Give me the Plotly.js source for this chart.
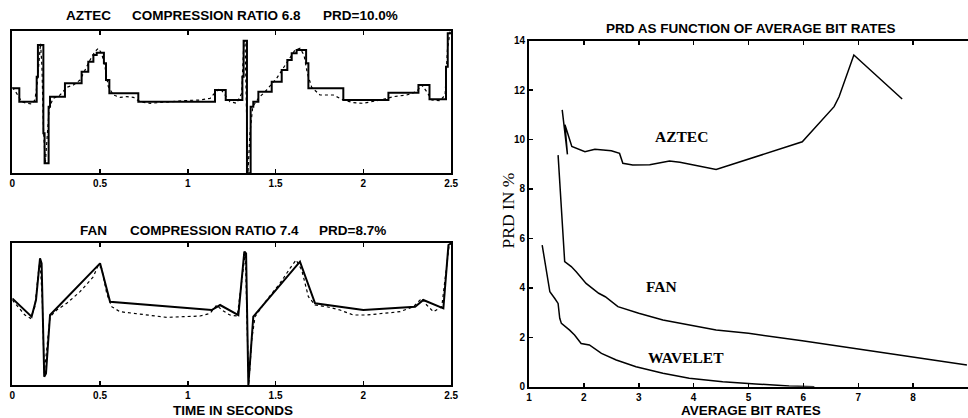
<!DOCTYPE html>
<html>
<head>
<meta charset="utf-8">
<script src="https://cdn.plot.ly/plotly-3.0.1.min.js"></script>
<style>
html,body{margin:0;padding:0;background:#fff;}
#chart{width:968px;height:418px;}
</style>
</head>
<body>
<div id="chart"></div>
<script>
// ---------- Left top: AZTEC (time in seconds, amplitude in arbitrary units) ----------
var aztecT = [0.000,0.040,0.139,0.146,0.169,0.177,0.184,0.196,0.207,0.215,0.300,0.395,0.433,0.462,0.481,0.522,0.534,0.553,0.718,1.155,1.216,1.311,1.318,1.330,1.337,1.351,1.358,1.373,1.402,1.478,1.535,1.567,1.592,1.620,1.674,1.687,1.886,2.143,2.314,2.377,2.471,2.481,2.500];
var aztecV = [2.55,2.15,2.90,3.85,3.85,1.20,0.30,0.30,2.00,2.30,2.70,3.05,3.35,3.55,3.62,3.30,2.80,2.40,2.15,2.50,2.20,2.90,3.98,3.98,0.00,0.00,2.00,2.15,2.45,2.75,3.10,3.40,3.60,3.70,3.30,2.55,2.20,2.42,2.65,2.22,3.20,4.20,4.20];

var origAT = [0.000,0.025,0.053,0.082,0.110,0.129,0.142,0.154,0.161,0.169,0.177,0.188,0.199,0.211,0.234,0.272,0.310,0.348,0.386,0.414,0.443,0.471,0.490,0.509,0.528,0.547,0.576,0.614,0.652,0.690,0.728,0.785,0.880,0.975,1.070,1.127,1.155,1.184,1.212,1.240,1.278,1.307,1.318,1.326,1.335,1.343,1.354,1.370,1.402,1.449,1.506,1.554,1.582,1.611,1.639,1.662,1.681,1.706,1.753,1.829,1.886,1.943,2.000,2.057,2.114,2.171,2.247,2.304,2.333,2.361,2.390,2.437,2.466,2.479,2.494];
var origAV = [2.58,2.40,2.15,2.10,2.08,2.20,2.70,3.60,3.90,3.20,1.40,0.30,1.00,2.00,2.25,2.35,2.58,2.65,2.80,3.10,3.40,3.65,3.75,3.60,3.20,2.60,2.35,2.28,2.30,2.28,2.15,2.10,2.15,2.18,2.20,2.25,2.42,2.55,2.35,2.15,2.10,2.40,3.80,4.00,1.70,0.00,1.20,2.00,2.25,2.50,2.85,3.25,3.50,3.70,3.75,3.55,3.00,2.58,2.35,2.35,2.20,2.12,2.10,2.15,2.22,2.30,2.35,2.45,2.65,2.45,2.20,2.18,2.35,3.70,4.25];

// ---------- Left bottom: FAN ----------
var fanT = [0.000,0.110,0.135,0.158,0.167,0.182,0.192,0.215,0.500,0.557,1.136,1.184,1.288,1.322,1.332,1.345,1.373,1.639,1.725,2.000,2.295,2.342,2.456,2.485,2.500];
var fanV = [2.60,2.05,2.55,3.80,3.65,0.25,0.35,2.10,3.65,2.50,2.25,2.40,2.10,4.00,3.95,0.00,2.05,3.70,2.45,2.25,2.35,2.55,2.30,4.20,4.25];

var origFT = [0.000,0.034,0.072,0.104,0.129,0.148,0.158,0.171,0.182,0.196,0.215,0.253,0.310,0.386,0.462,0.490,0.509,0.538,0.566,0.614,0.690,0.785,0.880,0.975,1.070,1.127,1.165,1.193,1.240,1.282,1.316,1.328,1.339,1.347,1.364,1.383,1.449,1.525,1.582,1.617,1.649,1.687,1.725,1.791,1.867,1.943,2.019,2.114,2.209,2.285,2.333,2.361,2.399,2.447,2.475,2.489];
var origFV = [2.55,2.35,2.10,2.00,2.35,3.35,3.75,2.55,0.35,1.05,2.05,2.25,2.45,2.80,3.25,3.60,3.50,2.75,2.35,2.20,2.15,2.07,2.03,2.05,2.07,2.15,2.40,2.25,2.10,2.07,3.55,4.00,1.55,0.00,1.35,2.05,2.55,3.05,3.50,3.75,3.45,2.65,2.40,2.35,2.25,2.10,2.10,2.15,2.20,2.35,2.60,2.40,2.20,2.35,3.55,4.20];

var timeTicks = [0, 0.5, 1, 1.5, 2, 2.5];
var timeTickText = ['0', '0.5', '1', '1.5', '2', '2.5'];

// ---------- Right: PRD vs average bit rate ----------
var prdAztecX = [1.605,1.70,1.655,1.78,2.02,2.20,2.50,2.65,2.71,2.89,3.20,3.56,3.75,4.41,5.98,6.56,6.65,6.92,7.80];
var prdAztecY = [11.2,9.40,10.6,9.72,9.51,9.61,9.55,9.44,9.04,8.97,8.98,9.13,9.08,8.79,9.91,11.33,11.73,13.42,11.64];

var prdFanX = [1.53,1.56,1.65,1.77,1.86,2.04,2.27,2.39,2.62,3.00,3.44,4.41,5.00,5.98,6.95,7.98,8.98];
var prdFanY = [9.37,8.36,5.06,4.86,4.65,4.18,3.78,3.64,3.24,2.97,2.70,2.29,2.16,1.86,1.55,1.21,0.88];

var prdWavX = [1.24,1.32,1.38,1.47,1.53,1.56,1.59,1.74,1.83,1.95,2.10,2.32,2.59,2.95,3.44,3.92,4.53,5.13,5.74,6.20];
var prdWavY = [5.73,4.65,3.84,3.57,3.37,2.77,2.56,2.29,2.09,1.75,1.69,1.35,1.08,0.81,0.54,0.34,0.20,0.11,0.03,0.00];

var rateTicks = [1,2,3,4,5,6,7,8,9];
var prdTicks = [0,2,4,6,8,10,12,14];

var methodNames = ['AZTEC', 'FAN', 'WAVELET'];
var methodLabelX = [3.77, 3.41, 3.86];
var methodLabelY = [10.12, 4.07, 1.19];

// ---------- Build ----------
var black = '#000';
var sansB = {family: 'Liberation Sans, Arial, sans-serif', size: 13.5, color: black, weight: 'bold'};
var tickF = {family: 'Liberation Sans, Arial, sans-serif', size: 10, color: black, weight: 'bold'};
var serifB = {family: 'Liberation Serif, Times New Roman, serif', size: 15.5, color: black, weight: 'bold'};

var traces = [
  {x: origAT, y: origAV, xaxis: 'x', yaxis: 'y', mode: 'lines', line: {color: black, width: 1.2, dash: 'dot'}, hoverinfo: 'skip'},
  {x: aztecT, y: aztecV, xaxis: 'x', yaxis: 'y', mode: 'lines', line: {color: black, width: 2, shape: 'hv'}},
  {x: origFT, y: origFV, xaxis: 'x2', yaxis: 'y2', mode: 'lines', line: {color: black, width: 1.2, dash: 'dot'}, hoverinfo: 'skip'},
  {x: fanT, y: fanV, xaxis: 'x2', yaxis: 'y2', mode: 'lines', line: {color: black, width: 2}},
  {x: prdAztecX, y: prdAztecY, xaxis: 'x3', yaxis: 'y3', mode: 'lines', line: {color: black, width: 1.5}},
  {x: prdFanX, y: prdFanY, xaxis: 'x3', yaxis: 'y3', mode: 'lines', line: {color: black, width: 1.5}},
  {x: prdWavX, y: prdWavY, xaxis: 'x3', yaxis: 'y3', mode: 'lines', line: {color: black, width: 1.5}}
];

function timeAxis(anchor) {
  return {
    anchor: anchor, domain: [0.0127, 0.466], range: [0, 2.5],
    tickmode: 'array', tickvals: timeTicks, ticktext: timeTickText,
    ticks: 'inside', ticklen: 4, tickwidth: 1.5, tickcolor: black,
    showline: true, linecolor: black, linewidth: 2, mirror: 'ticks',
    showgrid: false, zeroline: false, tickfont: tickF
  };
}
function ampAxis(anchor, dom, top) {
  return {
    anchor: anchor, domain: dom, range: [0, top],
    showticklabels: false, ticks: '',
    showline: true, linecolor: black, linewidth: 2, mirror: true,
    showgrid: false, zeroline: false
  };
}

var ann = [];
function txt(x, y, s, font, extra) {
  var a = {xref: 'paper', yref: 'paper', x: x / 968, y: 1 - y / 418, text: s, showarrow: false,
           font: font, xanchor: 'center', yanchor: 'middle'};
  if (extra) for (var k in extra) a[k] = extra[k];
  ann.push(a);
}
txt(88.3, 15, 'AZTEC', sansB);
txt(216.7, 15, 'COMPRESSION RATIO 6.8', sansB);
txt(360, 15, 'PRD=10.0%', sansB);
txt(93.3, 230, 'FAN', sansB);
txt(214, 230, 'COMPRESSION RATIO 7.4', sansB);
txt(352.5, 230, 'PRD=8.7%', sansB);
txt(232.5, 410, 'TIME IN SECONDS', sansB);
txt(751.3, 29, 'PRD AS FUNCTION OF AVERAGE BIT RATES', sansB);
txt(750.8, 410.5, 'AVERAGE BIT RATES', sansB);
txt(507.5, 211, 'PRD IN %', {family: 'Liberation Serif, Times New Roman, serif', size: 17.5, color: black}, {textangle: -90});
for (var i = 0; i < methodNames.length; i++) {
  ann.push({xref: 'x3', yref: 'y3', x: methodLabelX[i], y: methodLabelY[i], text: methodNames[i], showarrow: false,
            xanchor: 'center', yanchor: 'middle', font: serifB});
}

var layout = {
  width: 968, height: 418,
  margin: {l: 0, r: 0, t: 0, b: 0},
  paper_bgcolor: '#fff', plot_bgcolor: '#fff',
  showlegend: false,
  xaxis: timeAxis('y'),
  yaxis: ampAxis('x', [0.5854, 0.9266], 4.28),
  xaxis2: timeAxis('y2'),
  yaxis2: ampAxis('x2', [0.0789, 0.4194], 4.27),
  xaxis3: {
    anchor: 'y3', domain: [0.5465, 1.0], range: [1, 9],
    tickmode: 'array', tickvals: rateTicks,
    ticks: 'inside', ticklen: 4, tickwidth: 1.5, tickcolor: black,
    showline: true, linecolor: black, linewidth: 2, mirror: 'ticks',
    showgrid: false, zeroline: false, tickfont: tickF
  },
  yaxis3: {
    anchor: 'x3', domain: [0.0749, 0.9026], range: [0, 14],
    tickmode: 'array', tickvals: prdTicks,
    ticks: 'inside', ticklen: 4, tickwidth: 1.5, tickcolor: black,
    showline: true, linecolor: black, linewidth: 2, mirror: false,
    showgrid: false, zeroline: false, tickfont: tickF, ticklabelstandoff: 0
  },
  annotations: ann
};

Plotly.newPlot('chart', traces, layout, {staticPlot: true, displayModeBar: false});
</script>
</body>
</html>
